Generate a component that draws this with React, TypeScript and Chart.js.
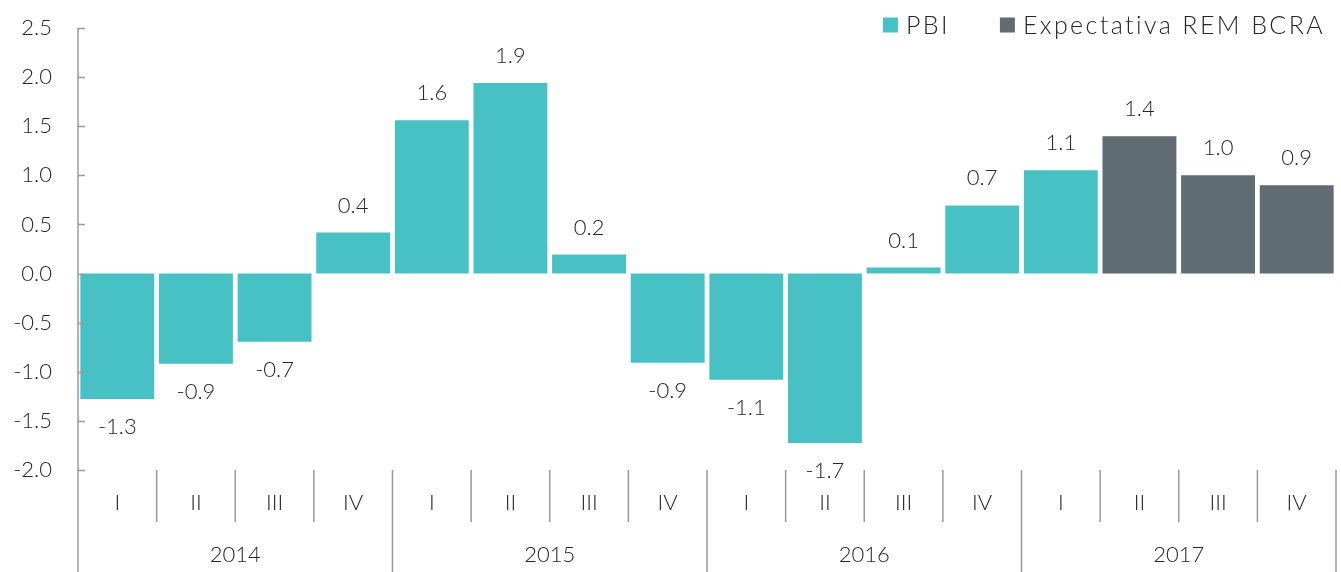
import React, { useEffect, useRef } from "react";
import { Chart, registerables } from "chart.js";

Chart.register(...registerables);

const quarters = ["I", "II", "III", "IV", "I", "II", "III", "IV", "I", "II", "III", "IV", "I", "II", "III", "IV"];
const years = ["2014", "2015", "2016", "2017"];
const pbiValues = [-1.276, -0.918, -0.694, 0.418, 1.561, 1.939, 0.194, -0.908, -1.082, -1.724, 0.061, 0.694, 1.051, null, null, null];
const remValues = [null, null, null, null, null, null, null, null, null, null, null, null, null, 1.398, 1.0, 0.898];
const yTicks = [-2.0, -1.5, -1.0, -0.5, 0.0, 0.5, 1.0, 1.5, 2.0, 2.5];
const seriesNames = ["PBI", "Expectativa REM BCRA"];

const TEAL = "#48C1C4";
const GRAY = "#5F6D72";
const TEXT = "#262626";
const LINE = "#9a9a9a";
const FONT = "Lato, 'Open Sans', sans-serif";

const customPlugin = {
  id: "custom",
  afterDatasetsDraw(chart: any) {
    const ctx = chart.ctx;
    const area = chart.chartArea;
    const x = chart.scales.x;
    const y = chart.scales.y;
    const H = chart.height;
    ctx.save();

    // data labels
    ctx.font = `300 22px ${FONT}`;
    ctx.fillStyle = TEXT;
    ctx.textAlign = "center";
    ctx.textBaseline = "middle";
    chart.data.datasets.forEach((ds: any, di: number) => {
      const meta = chart.getDatasetMeta(di);
      ds.data.forEach((v: any, i: number) => {
        if (v === null || v === undefined) return;
        const el = meta.data[i];
        const yy = v >= 0 ? el.y - 27 : el.y + 28;
        ctx.fillText(v.toFixed(1), el.x, yy);
      });
    });

    // y axis line
    ctx.strokeStyle = LINE;
    ctx.lineWidth = 1.5;
    ctx.beginPath();
    ctx.moveTo(area.left, y.getPixelForValue(yTicks[yTicks.length - 1]));
    ctx.lineTo(area.left, H);
    ctx.stroke();
    // y tick marks (inside)
    yTicks.forEach((t) => {
      const py = Math.round(y.getPixelForValue(t)) + 0.5;
      ctx.beginPath();
      ctx.moveTo(area.left, py);
      ctx.lineTo(area.left + 7, py);
      ctx.stroke();
    });

    // x separators
    const n = quarters.length;
    const step = (x.getPixelForValue(n - 1) - x.getPixelForValue(0)) / (n - 1);
    for (let i = 1; i <= n; i++) {
      const px = x.getPixelForValue(i - 1) + step / 2;
      const isYear = i % 4 === 0;
      ctx.beginPath();
      ctx.moveTo(px, area.bottom);
      ctx.lineTo(px, isYear ? H : area.bottom + 52);
      ctx.stroke();
    }

    // quarter labels
    ctx.fillStyle = TEXT;
    ctx.font = `300 22px ${FONT}`;
    quarters.forEach((q, i) => {
      ctx.fillText(q, x.getPixelForValue(i), area.bottom + 33);
    });
    // year labels
    years.forEach((yr, j) => {
      const cx = (x.getPixelForValue(j * 4) + x.getPixelForValue(j * 4 + 3)) / 2;
      ctx.fillText(yr, cx, area.bottom + 85);
    });

    // legend
    ctx.font = `300 25px ${FONT}`;
    (ctx as any).letterSpacing = "2.4px";
    ctx.textAlign = "left";
    const right = chart.width - 16;
    const ly = 25;
    const w2 = ctx.measureText(seriesNames[1]).width;
    const x2text = right - w2;
    ctx.fillStyle = GRAY;
    ctx.fillRect(x2text - 23, ly - 7.5, 15, 15);
    ctx.fillStyle = TEXT;
    ctx.fillText(seriesNames[1], x2text, ly + 1);
    const w1 = ctx.measureText(seriesNames[0]).width;
    const x1text = x2text - 23 - 50 - w1;
    ctx.fillStyle = TEAL;
    ctx.fillRect(x1text - 23, ly - 7.5, 15, 15);
    ctx.fillStyle = TEXT;
    ctx.fillText(seriesNames[0], x1text, ly + 1);

    ctx.restore();
  },
};

export default function App() {
  const ref = useRef<HTMLCanvasElement | null>(null);
  useEffect(() => {
    if (!ref.current) return;
    const chart = new Chart(ref.current, {
      type: "bar",
      data: {
        labels: quarters.map((q, i) => `${years[Math.floor(i / 4)]} ${q}`),
        datasets: [
          {
            label: seriesNames[0],
            data: pbiValues,
            backgroundColor: TEAL,
            grouped: false,
            barPercentage: 0.94,
            categoryPercentage: 1,
          } as any,
          {
            label: seriesNames[1],
            data: remValues,
            backgroundColor: GRAY,
            grouped: false,
            barPercentage: 0.94,
            categoryPercentage: 1,
          } as any,
        ],
      },
      options: {
        animation: false,
        responsive: true,
        maintainAspectRatio: false,
        layout: { padding: { top: 28, right: 5, bottom: 102, left: 0 } },
        plugins: {
          legend: { display: false },
          tooltip: { enabled: false },
        },
        scales: {
          x: {
            display: false,
            offset: true,
          },
          y: {
            min: -2,
            max: 2.5,
            afterFit: (s: any) => {
              s.width = 78;
              s.paddingTop = 0;
              s.paddingBottom = 0;
            },
            afterBuildTicks: (s: any) => {
              s.ticks = yTicks.map((v) => ({ value: v }));
            },
            grid: { display: false, drawTicks: false },
            border: { display: false },
            ticks: {
              padding: 26,
              color: TEXT,
              font: { family: FONT, size: 22, weight: "300" },
              callback: (v: any) => Number(v).toFixed(1),
            },
          },
        },
      },
      plugins: [customPlugin],
    });
    return () => chart.destroy();
  }, []);
  return (
    <div style={{ position: "fixed", left: 0, top: 0, width: "100vw", height: "100vh", background: "#fff" }}>
      <canvas ref={ref} />
    </div>
  );
}
